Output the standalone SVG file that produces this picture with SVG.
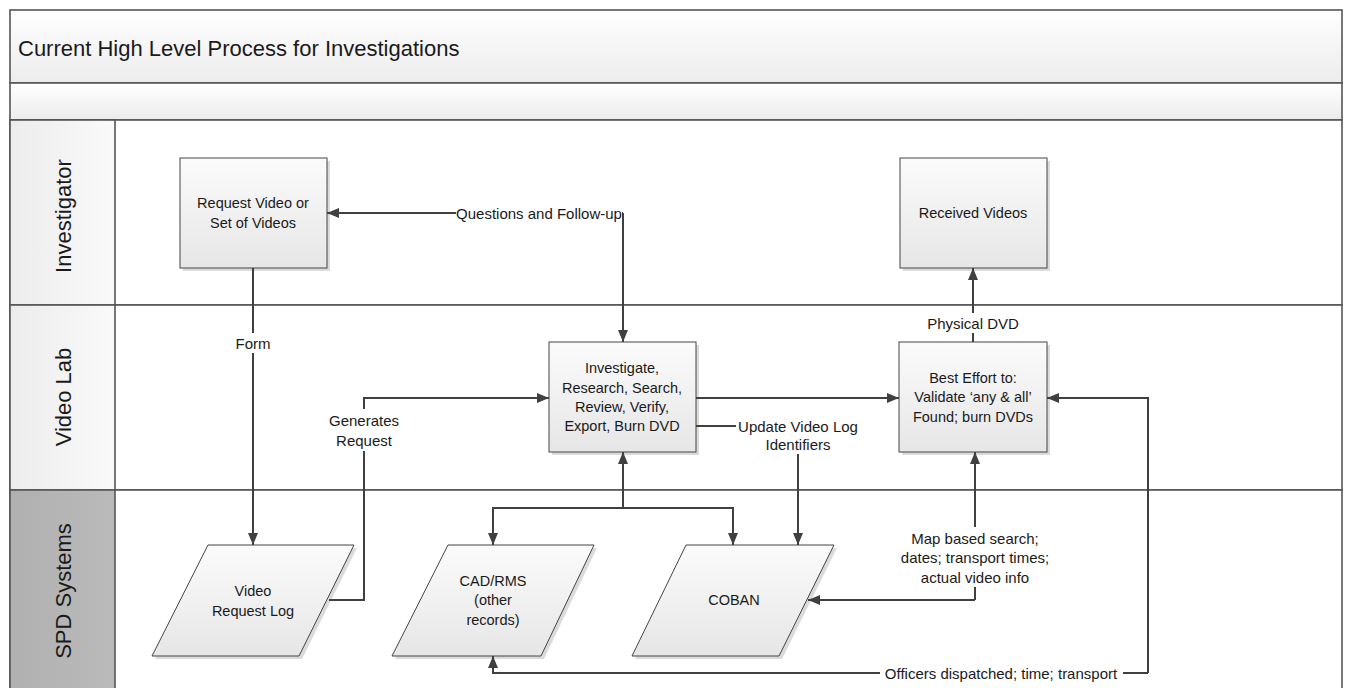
<svg xmlns="http://www.w3.org/2000/svg" width="1351" height="688" viewBox="0 0 1351 688">
<style>
text{font-family:"Liberation Sans",Arial,sans-serif;fill:#1a1a1a}
.t{font-size:14.5px;text-anchor:middle;dominant-baseline:central}
.e{font-size:15px;text-anchor:middle;dominant-baseline:central}
.title{font-size:22px}
.lane{font-size:22px;text-anchor:middle;dominant-baseline:central}
.frame{stroke:#555;stroke-width:1.6}
.node{fill:url(#ng);stroke:#444;stroke-width:1}
.sh{fill:#bdbdbd;opacity:0.55}
.c{fill:none;stroke:#404040;stroke-width:2}
.lb{fill:#fff}
</style>
<defs>
<linearGradient id="ng" x1="0" y1="0" x2="0" y2="1"><stop offset="0" stop-color="#fbfbfb"/><stop offset="1" stop-color="#e6e6e6"/></linearGradient>
<linearGradient id="hg" x1="0" y1="0" x2="0" y2="1"><stop offset="0" stop-color="#ffffff"/><stop offset="1" stop-color="#ececec"/></linearGradient>
<linearGradient id="lg" x1="0" y1="0" x2="1" y2="0"><stop offset="0" stop-color="#ececec"/><stop offset="1" stop-color="#fafafa"/></linearGradient>
<linearGradient id="dg" x1="0" y1="0" x2="1" y2="0"><stop offset="0" stop-color="#b0b0b0"/><stop offset="1" stop-color="#bababa"/></linearGradient>
<marker id="a" viewBox="0 0 12 10" refX="12" refY="5" markerWidth="12" markerHeight="10" markerUnits="userSpaceOnUse" orient="auto"><path d="M0,0 L12,5 L0,10 z" fill="#404040"/></marker>
</defs>

<g id="pool">
<rect x="10" y="10" width="1332" height="73" fill="url(#hg)" class="frame"/>
<rect x="10" y="83" width="1332" height="37" fill="url(#hg)" class="frame"/>
<text class="title" x="18" y="56">Current High Level Process for Investigations</text>
<rect x="10" y="120" width="1332" height="185" fill="#fff" class="frame"/>
<rect x="10" y="305" width="1332" height="185" fill="#fff" class="frame"/>
<rect x="10" y="490" width="1332" height="210" fill="#fff" class="frame"/>
<rect x="10" y="120" width="105" height="185" fill="url(#lg)" class="frame"/>
<rect x="10" y="305" width="105" height="185" fill="url(#lg)" class="frame"/>
<rect x="10" y="490" width="105" height="210" fill="url(#dg)" class="frame"/>
<text class="lane" x="63" y="216" transform="rotate(-90 63 216)">Investigator</text>
<text class="lane" x="63" y="397" transform="rotate(-90 63 397)">Video Lab</text>
<text class="lane" x="63" y="591" transform="rotate(-90 63 591)">SPD Systems</text>
</g>

<g id="n-request">
<rect class="sh" x="183" y="161" width="147" height="110"/>
<rect class="node" x="180" y="158" width="147" height="110"/>
<text class="t" x="253" y="203">Request Video or</text>
<text class="t" x="253" y="223">Set of Videos</text>
</g>
<g id="n-received">
<rect class="sh" x="903" y="161" width="147" height="110"/>
<rect class="node" x="900" y="158" width="147" height="110"/>
<text class="t" x="973" y="213">Received Videos</text>
</g>
<g id="n-investigate">
<rect class="sh" x="552" y="345" width="147" height="110"/>
<rect class="node" x="549" y="342" width="147" height="110"/>
<text class="t" x="622" y="368">Investigate,</text>
<text class="t" x="622" y="388">Research, Search,</text>
<text class="t" x="622" y="407">Review, Verify,</text>
<text class="t" x="622" y="426">Export, Burn DVD</text>
</g>
<g id="n-besteffort">
<rect class="sh" x="902" y="345" width="148" height="110"/>
<rect class="node" x="899" y="342" width="148" height="110"/>
<text class="t" x="973" y="378">Best Effort to:</text>
<text class="t" x="973" y="397">Validate ‘any &amp; all’</text>
<text class="t" x="973" y="417">Found; burn DVDs</text>
</g>
<g id="n-vrl">
<polygon class="sh" points="211,548 357,548 302,659 155,659"/>
<polygon class="node" points="208,545 354,545 299,656 152,656"/>
<text class="t" x="253" y="591">Video</text>
<text class="t" x="253" y="611">Request Log</text>
</g>
<g id="n-cad">
<polygon class="sh" points="451,548 597,548 544,659 395,659"/>
<polygon class="node" points="448,545 594,545 541,656 392,656"/>
<text class="t" x="493" y="581">CAD/RMS</text>
<text class="t" x="493" y="600">(other</text>
<text class="t" x="493" y="620">records)</text>
</g>
<g id="n-coban">
<polygon class="sh" points="689,548 837,548 782,659 635,659"/>
<polygon class="node" points="686,545 834,545 779,656 632,656"/>
<text class="t" x="734" y="600">COBAN</text>
</g>

<g id="connectors">
<path class="c" d="M253,268 V545" marker-end="url(#a)"/>
<path class="c" d="M329,600 H364 V398 H549" marker-end="url(#a)"/>
<path class="c" d="M623,213 H327" marker-end="url(#a)"/>
<path class="c" d="M623,213 V342" marker-end="url(#a)"/>
<path class="c" d="M696,398 H899" marker-end="url(#a)"/>
<path class="c" d="M696,426 H798 V545" marker-end="url(#a)"/>
<path class="c" d="M623,508 V452" marker-end="url(#a)"/>
<path class="c" d="M623,508 H493 V545" marker-end="url(#a)"/>
<path class="c" d="M623,508 H733 V545" marker-end="url(#a)"/>
<path class="c" d="M973,342 V268" marker-end="url(#a)"/>
<path class="c" d="M975,600 H808" marker-end="url(#a)"/>
<path class="c" d="M975,600 V452" marker-end="url(#a)"/>
<path class="c" d="M1148,673 V398 H1047" marker-end="url(#a)"/>
<path class="c" d="M1148,673 H493 V656" marker-end="url(#a)"/>
<rect class="lb" x="236" y="333" width="34" height="20"/>
<text class="e" x="253" y="343">Form</text>
<rect class="lb" x="328" y="409" width="72" height="42"/>
<text class="e" x="364" y="420">Generates</text>
<text class="e" x="364" y="440">Request</text>
<rect class="lb" x="456" y="203" width="166" height="20"/>
<text class="e" x="539" y="213">Questions and Follow-up</text>
<rect class="lb" x="736" y="416" width="124" height="38"/>
<text class="e" x="798" y="426">Update Video Log</text>
<text class="e" x="798" y="444">Identifiers</text>
<rect class="lb" x="927" y="313" width="92" height="20"/>
<text class="e" x="973" y="323">Physical DVD</text>
<rect class="lb" x="893" y="527" width="164" height="60"/>
<text class="e" x="975" y="538">Map based search;</text>
<text class="e" x="975" y="557">dates; transport times;</text>
<text class="e" x="975" y="577">actual video info</text>
<rect class="lb" x="880" y="663" width="243" height="20"/>
<text class="e" x="1001" y="673">Officers dispatched; time; transport</text>
</g>
</svg>
